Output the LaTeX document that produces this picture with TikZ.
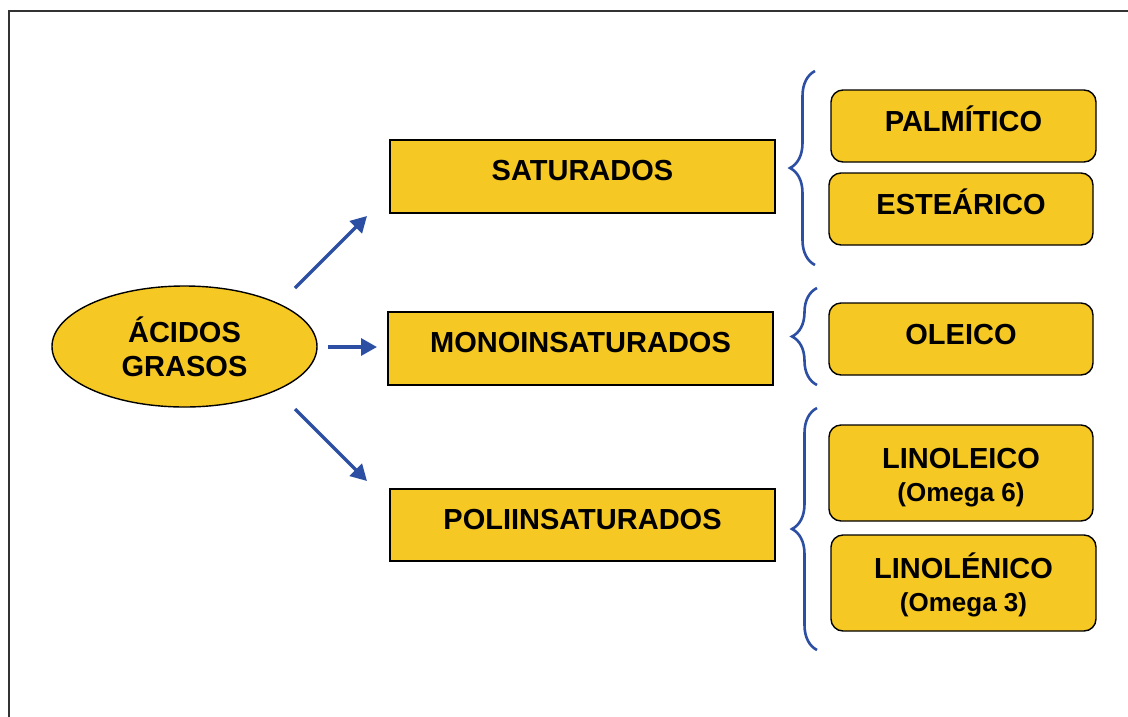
\documentclass[tikz,border=0pt]{standalone}
\usepackage{fontspec}
\setmainfont{Liberation Sans}
\usetikzlibrary{shapes.geometric,arrows.meta,decorations.pathreplacing}
\definecolor{fillY}{HTML}{F5C823}
\definecolor{arrB}{HTML}{2C4FA3}
\begin{document}
\begin{tikzpicture}[x=1pt,y=-1pt,
  bigfont/.style={font=\bfseries\fontsize{29}{34}\selectfont},
  catbox/.style={bigfont,draw=black,line width=1.6pt,fill=fillY,minimum width=385pt,minimum height=73pt,inner sep=0pt,text height=21pt,text depth=13pt},
  subbox/.style={bigfont,draw=black,line width=1.4pt,fill=fillY,rounded corners=12pt,minimum width=265pt,minimum height=72pt,inner sep=0pt,text height=21pt,text depth=10pt},
  subboxtwo/.style={font=\bfseries\fontsize{29}{33.5}\selectfont,draw=black,line width=1.4pt,fill=fillY,rounded corners=12pt,minimum width=265pt,minimum height=96pt,inner sep=0pt,align=center},
  mainell/.style={bigfont,ellipse,draw=black,line width=1.4pt,fill=fillY,minimum width=265pt,minimum height=121pt,inner sep=0pt,align=center},
  arr/.style={draw=arrB,line width=3.3pt,-{Triangle[length=16pt,width=17pt]}},
  brc/.style={draw=arrB,line width=2.6pt,decorate,decoration={brace,amplitude=25pt}},
  frameline/.style={draw=black!80,line width=1.6pt}]
\useasboundingbox (0,0) rectangle (1128,716);
\draw[frameline] (9,11) rectangle (1150,740);

\node[mainell] (ag) at (184.5,346.5) {ÁCIDOS\\GRASOS};

\node[catbox] (sat) at (582.5,176.5) {SATURADOS};
\node[catbox] (mono) at (580.5,348.5) {MONOINSATURADOS};
\node[catbox,minimum height=72pt] (poli) at (582.5,525) {POLIINSATURADOS};

\node[subbox] (palm) at (963.5,126) {PALMÍTICO};
\node[subbox,minimum width=264pt] (este) at (961,209) {ESTEÁRICO};
\node[subbox,minimum width=264pt] (ole) at (961,339) {OLEICO};
\node[subboxtwo,minimum width=264pt] (linol) at (961,473) {\rule{0pt}{29pt}LINOLEICO\\{\fontsize{26}{33.5}\selectfont (Omega 6)}};
\node[subboxtwo] (linolen) at (963.5,583) {\rule{0pt}{29pt}LINOLÉNICO\\{\fontsize{26}{33.5}\selectfont (Omega 3)}};

\coordinate (u0) at (295,288);
\coordinate (u1) at (367,216);
\coordinate (h0) at (328,347);
\coordinate (h1) at (377,347);
\coordinate (d0) at (295,409);
\coordinate (d1) at (367,481);
\draw[arr] (u0) -- (u1);
\draw[arr] (h0) -- (h1);
\draw[arr] (d0) -- (d1);

\coordinate (b1b) at (815,265);
\coordinate (b1t) at (815,71);
\coordinate (b2b) at (817,385);
\coordinate (b2t) at (817,288);
\coordinate (b3b) at (817,650);
\coordinate (b3t) at (817,408);
\draw[brc] (b1b) -- (b1t);
\draw[brc] (b2b) -- (b2t);
\draw[brc] (b3b) -- (b3t);
\end{tikzpicture}
\end{document}
